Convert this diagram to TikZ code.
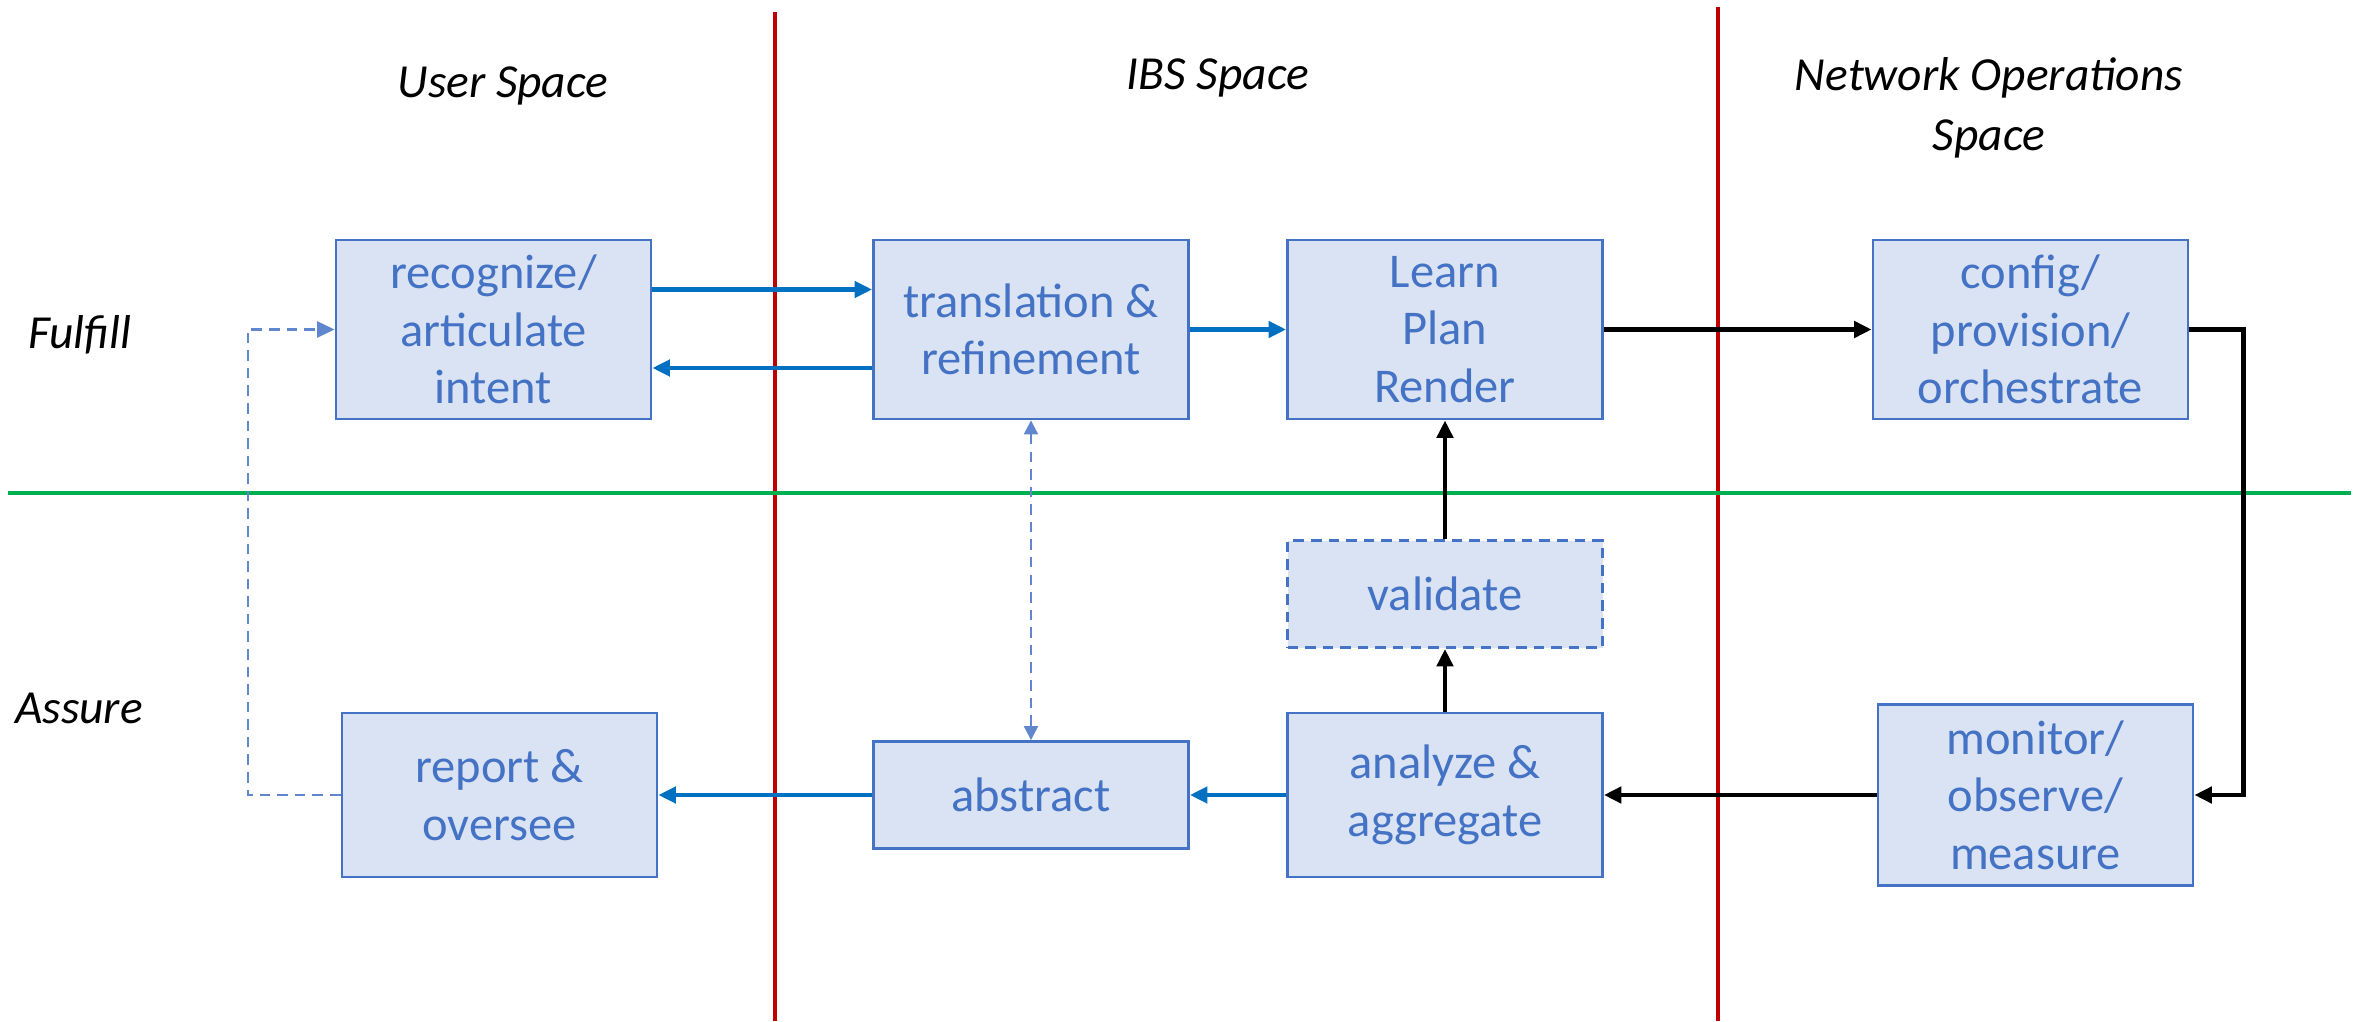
\documentclass[tikz,border=0pt]{standalone}
\usepackage{fontspec}
\setmainfont{Carlito}
\usetikzlibrary{arrows.meta,positioning,calc}
\definecolor{boxblue}{HTML}{4472C4}
\definecolor{boxfill}{HTML}{DAE3F3}
\definecolor{arrowblue}{HTML}{0070C0}
\definecolor{divred}{HTML}{C00000}
\definecolor{divgreen}{HTML}{00B050}

\begin{document}
\begin{tikzpicture}[
    box/.style={draw=boxblue,fill=boxfill,line width=0.8pt,minimum width=3.15cm,minimum height=1.79cm,align=center,text=boxblue,inner sep=0pt,font=\fontsize{13.8}{16.4}\selectfont},
    midbox/.style={box,minimum height=1.64cm},
    flatbox/.style={box,minimum height=1.07cm},
    spacelabel/.style={align=center,font=\fontsize{13.5}{17}\selectfont\itshape},
    ->/.style={-{Triangle[length=5pt,width=4.6pt]}},
    <->/.style={{Triangle[length=4pt,width=4pt]}-{Triangle[length=4pt,width=4pt]}},
    blueflow/.style={->,arrowblue,line width=1.2pt},
    blackflow/.style={->,black,line width=1.3pt},
    feedback/.style={boxblue!85,line width=0.6pt,dash pattern=on 3pt off 2pt},
    divider/.style={line width=0.9pt},
]

\useasboundingbox (0,0) rectangle (23.63,10.21);

% Space dividers
\draw[divider,divred] (7.75,10.09) -- (7.75,0);
\draw[divider,divred] (17.18,10.14) -- (17.18,0);
\draw[divider,divgreen] (0.08,5.28) -- (23.51,5.28);

% Labels
\node[spacelabel] (user) at (5.03,9.35) {User Space};
\node[spacelabel] (ibs) at (12.18,9.43) {IBS Space};
\node[spacelabel] (netops) at (19.89,9.13) {Network Operations\\Space};
\node[spacelabel] (fulfill) at (0.80,6.86) {Fulfill};
\node[spacelabel] (assure) at (0.79,3.13) {Assure};

% Fulfill components
\node[box] (recog) at (4.935,6.915) {recognize/\\articulate\\intent};
\node[box] (trans) at (10.31,6.915) {translation \&\\refinement};
\node[box] (lpr) at (14.45,6.915) {Learn\\Plan\\Render};
\node[box] (config) at (20.305,6.915) {config/\\provision/\\orchestrate};

% Assure components
\node[flatbox,dash pattern=on 3pt off 2pt] (valid) at (14.45,4.27) {validate};
\node[midbox] (analyze) at (14.45,2.26) {analyze \&\\aggregate};
\node[flatbox] (abstr) at (10.31,2.26) {abstract};
\node[midbox] (report) at (4.995,2.26) {report \&\\oversee};
\node[box,minimum height=1.81cm] (monitor) at (20.355,2.26) {monitor/\\observe/\\measure};

% Coords
\coordinate (fb_low) at ($(report.west)+(-0.93,0)$);
\coordinate (fb_high) at (fb_low |- recog.west);
\coordinate (loop_top) at ($(config.east)+(0.54,0)$);

% Arrows
\draw[blueflow] ($(recog.east)+(0,0.4)$) -- ($(trans.west)+(0,0.4)$);
\draw[blueflow] ($(trans.west)+(0,-0.385)$) -- ($(recog.east)+(0,-0.385)$);
\draw[blueflow] (trans.east) -- (lpr.west);
\draw[blackflow] (lpr.east) -- (config.west);
\draw[blackflow] (config.east) -- (loop_top) -- (loop_top |- monitor.east) -- (monitor.east);
\draw[blackflow] (monitor.west) -- (analyze.east);
\draw[blackflow] (analyze.north) -- (valid.south);
\draw[blackflow] (valid.north) -- (lpr.south);
\draw[blueflow] (analyze.west) -- (abstr.east);
\draw[blueflow] (abstr.west) -- (report.east);

\draw[feedback,<->] (trans.south) -- (abstr.north);
\draw[feedback,->] (report.west) -- (fb_low) -- (fb_high) -- (recog.west);

\end{tikzpicture}
\end{document}
